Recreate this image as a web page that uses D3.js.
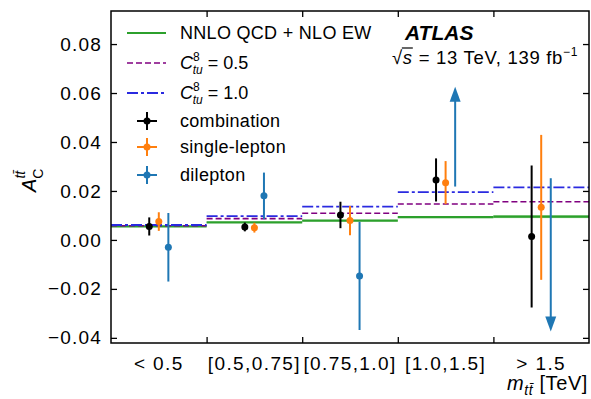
<html>
<head>
<meta charset="utf-8">
<title> ttbar charge asymmetry </title>
<script type="text/javascript" src="https://cdn.jsdelivr.net/npm/d3@7"></script>
<style>
  * { margin: 0; padding: 0; }
  body { background: #fff; }
  #plot { width: 591px; height: 399px; }
  text { font-family: "Liberation Sans", Arial, Helvetica, sans-serif; fill: #000; }
</style>
</head>
<body>
<div id="plot"></div>
<script type="text/javascript">
  // mtt bins and measured values
  var bins = ['< 0.5', '[0.5,0.75]', '[0.75,1.0]', '[1.0,1.5]', '> 1.5'];
  var yTicks = [-0.04, -0.02, 0.00, 0.02, 0.04, 0.06, 0.08];

  var combination = [0.0055, 0.0053, 0.0102, 0.0245, 0.0014];
  var combinationErr = [0.0037, 0.0018, 0.0054, 0.0088, 0.0290];
  var singleLepton = [0.0075, 0.0050, 0.0079, 0.0234, 0.0133];
  var singleLeptonErr = [0.0038, 0.0020, 0.0060, 0.0088, 0.0296];
  var dilepton = [-0.0030, 0.0180, -0.0147, null, null];
  var dileptonErr = [0.0140, 0.0095, 0.0221, null, null];
  // out of range dilepton points are shown as arrows
  var dileptonArrowFrom = [null, null, null, 0.0218, 0.0252];
  var dileptonArrowTo = [null, null, null, 0.0626, -0.0374];

  // predictions
  var sm = [0.0055, 0.0072, 0.0079, 0.0093, 0.0095];
  var smErr = [0.0002, 0.0002, 0.0003, 0.0004, 0.0006];
  var ctu05 = [0.0058, 0.0087, 0.0109, 0.0147, 0.0156];
  var ctu10 = [0.0061, 0.0097, 0.0136, 0.0195, 0.0215];

  (function() {
  var W = 591, H = 399;
  var pL = 111, pR = 589, pT = 11, pB = 343;

  var svg = d3.select('#plot').append('svg')
      .attr('width', W).attr('height', H);

  var x = d3.scaleLinear().domain([0, 5]).range([pL, pR]);
  var y = d3.scaleLinear().domain([-0.0421, 0.0935]).range([pB, pT]);

  var g = svg.append('g');

  // SM band + steps
  var idx = d3.range(bins.length);
  g.selectAll('rect.band').data(idx).enter().append('rect')
      .attr('x', function(i) { return x(i); })
      .attr('width', function(i) { return x(i + 1) - x(i); })
      .attr('y', function(i) { return y(sm[i] + smErr[i]); })
      .attr('height', function(i) { return y(sm[i] - smErr[i]) - y(sm[i] + smErr[i]); })
      .attr('fill', '#8fd18a').attr('opacity', 0.8);

  var stepLine = function(vals, color, dash, width) {
    g.selectAll(null).data(idx).enter().append('line')
        .attr('x1', function(i) { return x(i); })
        .attr('x2', function(i) { return x(i + 1); })
        .attr('y1', function(i) { return y(vals[i]); })
        .attr('y2', function(i) { return y(vals[i]); })
        .attr('stroke', color)
        .attr('stroke-width', width)
        .attr('stroke-dasharray', dash);
  };
  stepLine(sm, '#2ca02c', null, 2.2);
  stepLine(ctu05, '#800080', '6,3', 1.6);
  stepLine(ctu10, '#2a2ae0', '11,3,3,3', 1.8);

  // data points with error bars
  var drawSeries = function(vals, errs, color, offset) {
    var pts = idx.filter(function(i) { return vals[i] !== null; });
    g.selectAll(null).data(pts).enter().append('line')
        .attr('x1', function(i) { return x(i + 0.5 + offset); })
        .attr('x2', function(i) { return x(i + 0.5 + offset); })
        .attr('y1', function(i) { return y(vals[i] - errs[i]); })
        .attr('y2', function(i) { return y(vals[i] + errs[i]); })
        .attr('stroke', color).attr('stroke-width', 2);
    g.selectAll(null).data(pts).enter().append('circle')
        .attr('cx', function(i) { return x(i + 0.5 + offset); })
        .attr('cy', function(i) { return y(vals[i]); })
        .attr('r', 3.5)
        .attr('fill', color);
  };
  drawSeries(combination, combinationErr, '#000000', -0.1);
  drawSeries(singleLepton, singleLeptonErr, '#ff7f0e', 0.0);
  drawSeries(dilepton, dileptonErr, '#1f77b4', 0.1);

  // arrows
  var arr = idx.filter(function(i) { return dileptonArrowFrom[i] !== null; });
  g.selectAll(null).data(arr).enter().append('line')
      .attr('x1', function(i) { return x(i + 0.6); })
      .attr('x2', function(i) { return x(i + 0.6); })
      .attr('y1', function(i) { return y(dileptonArrowFrom[i]); })
      .attr('y2', function(i) {
        var up = dileptonArrowTo[i] > dileptonArrowFrom[i];
        return y(dileptonArrowTo[i]) + (up ? 10 : -10);
      })
      .attr('stroke', '#1f77b4').attr('stroke-width', 2);
  g.selectAll(null).data(arr).enter().append('path')
      .attr('d', function(i) {
        var cx = x(i + 0.6), ty = y(dileptonArrowTo[i]);
        var s = dileptonArrowTo[i] > dileptonArrowFrom[i] ? 1 : -1;
        return 'M' + cx + ',' + ty + 'L' + (cx - 5.5) + ',' + (ty + s * 15) +
            'L' + (cx + 5.5) + ',' + (ty + s * 15) + 'Z';
      })
      .attr('fill', '#1f77b4');

  // frame and ticks
  svg.append('rect').attr('x', pL).attr('y', pT)
      .attr('width', pR - pL).attr('height', pB - pT)
      .attr('fill', 'none').attr('stroke', '#000').attr('stroke-width', 1.5);

  var yAxis = d3.axisLeft(y).tickValues(yTicks).tickSizeInner(-6).tickSizeOuter(0)
      .tickPadding(9).tickFormat(function(d) { return d3.format('.2f')(d).replace('-', '\u2212'); });
  var ya = svg.append('g').attr('transform', 'translate(' + pL + ',0)').call(yAxis);
  var yr = svg.append('g').attr('transform', 'translate(' + pR + ',0)')
      .call(d3.axisRight(y).tickValues(yTicks).tickSizeInner(-6).tickSizeOuter(0).tickFormat(''));

  var edges = [1, 2, 3, 4];
  var xb = svg.append('g').attr('transform', 'translate(0,' + pB + ')')
      .call(d3.axisBottom(x).tickValues(edges).tickSizeInner(-6).tickSizeOuter(0).tickFormat(''));
  var xt = svg.append('g').attr('transform', 'translate(0,' + pT + ')')
      .call(d3.axisTop(x).tickValues(edges).tickSizeInner(-6).tickSizeOuter(0).tickFormat(''));
  [ya, yr, xb, xt].forEach(function(a) {
    a.select('.domain').remove();
    a.selectAll('line').attr('stroke', '#000').attr('stroke-width', 1.3);
  });
  ya.selectAll('text').attr('font-size', 19).attr('letter-spacing', 1.2)
      .style('font-family', '"Liberation Sans", Arial, sans-serif');

  svg.selectAll('text.bin').data(bins).enter().append('text')
      .attr('x', function(d, i) { return x(i + 0.5); })
      .attr('y', 370)
      .attr('text-anchor', 'middle')
      .attr('font-size', 19).attr('letter-spacing', 1.4)
      .text(function(d) { return d; });

  // axis titles
  var xl = svg.append('text').attr('x', 588).attr('y', 390)
      .attr('text-anchor', 'end').attr('font-size', 20).attr('letter-spacing', 0.6);
  xl.append('tspan').attr('font-style', 'italic').text('m');
  xl.append('tspan').attr('font-style', 'italic').attr('font-size', 14).attr('dy', 5).text('tt\u0304');
  xl.append('tspan').attr('dy', -5).text(' [TeV]');

  var yl = svg.append('text').attr('transform', 'translate(36,192) rotate(-90)')
      .attr('font-size', 20);
  yl.append('tspan').attr('font-style', 'italic').text('A');
  yl.append('tspan').attr('font-size', 14).attr('dy', 7).text('C');
  yl.append('tspan').attr('font-style', 'italic').attr('font-size', 14)
      .attr('dx', -10).attr('dy', -18).text('tt\u0304');

  // legend
  var lx1 = 127, lx2 = 166, tx = 180;
  var leg = svg.append('g');
  leg.append('line').attr('x1', lx1).attr('x2', lx2).attr('y1', 33).attr('y2', 33)
      .attr('stroke', '#2ca02c').attr('stroke-width', 2.2);
  leg.append('line').attr('x1', lx1).attr('x2', lx2).attr('y1', 63).attr('y2', 63)
      .attr('stroke', '#800080').attr('stroke-width', 1.6).attr('stroke-dasharray', '6,3');
  leg.append('line').attr('x1', lx1).attr('x2', lx2).attr('y1', 93).attr('y2', 93)
      .attr('stroke', '#2a2ae0').attr('stroke-width', 1.8).attr('stroke-dasharray', '11,3,3,3');
  leg.append('text').attr('x', tx).attr('y', 39).attr('font-size', 18).attr('letter-spacing', 0.3)
      .text('NNLO QCD + NLO EW');
  [['0.5', 69], ['1.0', 99]].forEach(function(c) {
    var t = leg.append('text').attr('x', tx).attr('y', c[1]).attr('font-size', 18);
    t.append('tspan').attr('font-style', 'italic').text('C');
    t.append('tspan').attr('font-size', 12).attr('dy', -8).text('8');
    t.append('tspan').attr('font-size', 12).attr('font-style', 'italic')
        .attr('dx', -7).attr('dy', 13).text('tu');
    t.append('tspan').attr('dy', -5).text(' = ' + c[0]);
  });
  var markers = [['combination', '#000000', 121], ['single-lepton', '#ff7f0e', 147], ['dilepton', '#1f77b4', 175]];
  markers.forEach(function(m) {
    leg.append('line').attr('x1', 137).attr('x2', 157).attr('y1', m[2]).attr('y2', m[2])
        .attr('stroke', m[1]).attr('stroke-width', 2);
    leg.append('line').attr('x1', 147).attr('x2', 147).attr('y1', m[2] - 9).attr('y2', m[2] + 9)
        .attr('stroke', m[1]).attr('stroke-width', 2);
    leg.append('circle').attr('cx', 147).attr('cy', m[2]).attr('r', 3.5).attr('fill', m[1]);
    leg.append('text').attr('x', tx).attr('y', m[2] + 6).attr('font-size', 18).attr('letter-spacing', 0.3)
        .text(m[0]);
  });

  // ATLAS label
  svg.append('text').attr('x', 405).attr('y', 40).attr('font-size', 21)
      .attr('font-weight', 'bold').attr('font-style', 'italic').text('ATLAS');
  var lumi = svg.append('text').attr('x', 392).attr('y', 64).attr('font-size', 18.5)
      .attr('letter-spacing', 0.7);
  lumi.append('tspan').text('\u221a');
  lumi.append('tspan').attr('font-style', 'italic').text('s');
  lumi.append('tspan').text(' = 13 TeV, 139 fb');
  lumi.append('tspan').attr('font-size', 12).attr('dy', -8).text('\u22121');
  var s0 = lumi.node().getStartPositionOfChar(1), s1 = lumi.node().getEndPositionOfChar(1);
  svg.append('line').attr('x1', s0.x - 1).attr('x2', s1.x).attr('y1', 48).attr('y2', 48)
      .attr('stroke', '#000').attr('stroke-width', 1.2);
  })();
</script>
</body>
</html>
